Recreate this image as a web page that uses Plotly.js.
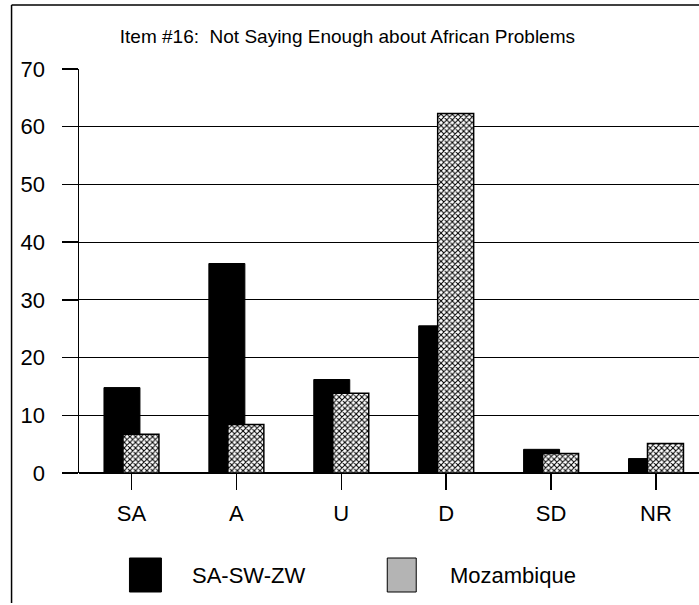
<!DOCTYPE html>
<html>
<head>
<meta charset="utf-8">
<script src="https://cdn.plot.ly/plotly-3.0.1.min.js"></script>
<style>html,body{margin:0;padding:0;background:#fff;}#chart{width:699px;height:605px;}</style>
</head>
<body>
<div id="chart"></div>
<script>
const chartTitle = "Item #16:  Not Saying Enough about African Problems";
const categories = ["SA", "A", "U", "D", "SD", "NR"];
const seriesNames = ["SA-SW-ZW", "Mozambique"];
const saSwZw = [14.8, 36.3, 16.2, 25.5, 4.1, 2.5];
const mozambique = [6.7, 8.4, 13.8, 62.3, 3.4, 5.1];
const yTicks = [0, 10, 20, 30, 40, 50, 60, 70];

const W = 699, H = 605;
const L = 78.5, R = 0, T = 69, B = 132;
const pw = W - L - R, ph = H - T - B;
const px = x => (x - L) / pw;
const py = y => (H - B - y) / ph;

const FONT = "Liberation Sans, Arial, sans-serif";

const traces = [
  {
    type: "bar", name: seriesNames[0], x: categories, y: saSwZw,
    width: 0.343, offset: -0.262,
    marker: { color: "#000", line: { color: "#000", width: 1 } },
    showlegend: false, hoverinfo: "x+y+name"
  },
  {
    type: "bar", name: seriesNames[1], x: categories, y: mozambique,
    width: 0.343, offset: -0.081,
    marker: {
      color: "#fff",
      line: { color: "#000", width: 1.5 },
      pattern: { shape: "x", fgcolor: "#000", bgcolor: "#fff", size: 4, solidity: 0.45 }
    },
    showlegend: false, hoverinfo: "x+y+name"
  }
];

const shapes = [
  { type: "line", xref: "paper", yref: "paper", x0: px(11), x1: px(11), y0: py(5), y1: py(603), line: { color: "#000", width: 1.5 } },
  { type: "line", xref: "paper", yref: "paper", x0: px(11), x1: px(699), y0: py(5), y1: py(5), line: { color: "#000", width: 1.5 } },
  { type: "rect", xref: "paper", yref: "paper", x0: px(129), x1: px(161), y0: py(592), y1: py(558), fillcolor: "#000", line: { color: "#000", width: 1 } },
  { type: "rect", xref: "paper", yref: "paper", x0: px(387), x1: px(416), y0: py(592), y1: py(558), fillcolor: "#b4b4b4", line: { color: "#000", width: 1 } }
];

const annotations = [
  { xref: "paper", yref: "paper", x: px(190), y: py(575), xanchor: "left", yanchor: "middle", text: seriesNames[0], showarrow: false, font: { family: FONT, size: 22, color: "#000" } },
  { xref: "paper", yref: "paper", x: px(448), y: py(575), xanchor: "left", yanchor: "middle", text: seriesNames[1], showarrow: false, font: { family: FONT, size: 22, color: "#000" } }
];

const layout = {
  width: W, height: H,
  margin: { l: L, r: R, t: T, b: B, pad: 0 },
  paper_bgcolor: "#fff", plot_bgcolor: "#fff",
  font: { family: FONT, color: "#000", size: 20 },
  title: { text: chartTitle, x: 0.497, xref: "container", xanchor: "center", y: 1 - 36 / H, yanchor: "middle", font: { family: FONT, size: 19, color: "#000" } },
  barmode: "overlay",
  showlegend: false,
  xaxis: {
    type: "category", range: [-0.5, 5.41],
    showline: false, zeroline: false, showgrid: false,
    ticks: "outside", ticklen: 16, tickwidth: 1.5, tickcolor: "#000",
    ticklabelstandoff: 5,
    tickfont: { family: FONT, size: 22, color: "#000" }
  },
  yaxis: {
    range: [0, 70], tickvals: yTicks, ticktext: yTicks.map(String),
    showline: true, linecolor: "#000", linewidth: 1.5,
    showgrid: true, gridcolor: "#000", gridwidth: 1.2,
    zeroline: true, zerolinecolor: "#000", zerolinewidth: 1.5,
    ticks: "outside", ticklen: 16, tickwidth: 1.5, tickcolor: "#000",
    ticklabelstandoff: 12,
    tickfont: { family: FONT, size: 22, color: "#000" }
  },
  shapes: shapes,
  annotations: annotations
};

Plotly.newPlot("chart", traces, layout, { displayModeBar: false, staticPlot: true });
</script>
</body>
</html>
